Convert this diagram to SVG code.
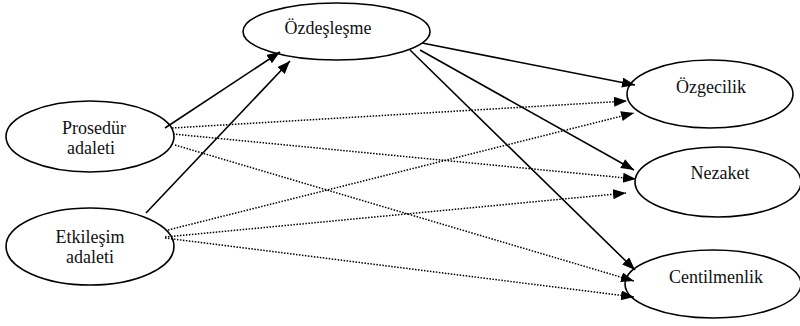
<svg xmlns="http://www.w3.org/2000/svg" width="800" height="326" viewBox="0 0 800 326">
<style>
.node ellipse{fill:#fff;stroke:#000;stroke-width:1.6}
.node text{font-family:"Liberation Serif","Times New Roman",serif;font-size:18px;fill:#111;text-anchor:middle}
.edge{stroke:#000;stroke-width:1.6;fill:none}
.dot{stroke:#000;stroke-width:1.5;fill:none;stroke-dasharray:1.5 1.5}
</style>
<defs>
<marker id="arr" markerUnits="userSpaceOnUse" markerWidth="14" markerHeight="11" refX="13" refY="5" orient="auto">
<path d="M0,0 L13,5 L0,10 z" fill="#000"/>
</marker>
</defs>
<rect width="800" height="326" fill="#fff"/>
<g id="node-ozdeslesme" class="node"><ellipse cx="336.5" cy="31.5" rx="93.5" ry="28.5"/><text x="328" y="34">Özdeşleşme</text></g>
<g id="node-prosedur" class="node"><ellipse cx="90" cy="136.5" rx="84" ry="35.5"/><text x="94" y="134">Prosedür</text><text x="91" y="154">adaleti</text></g>
<g id="node-etkilesim" class="node"><ellipse cx="90" cy="246.5" rx="84" ry="38.5"/><text x="90" y="243">Etkileşim</text><text x="90" y="263">adaleti</text></g>
<g id="node-ozgecilik" class="node"><ellipse cx="710" cy="94" rx="83" ry="34"/><text x="711" y="93">Özgecilik</text></g>
<g id="node-nezaket" class="node"><ellipse cx="718" cy="182" rx="83" ry="35"/><text x="720" y="179">Nezaket</text></g>
<g id="node-centilmenlik" class="node"><ellipse cx="713" cy="284" rx="88" ry="34"/><text x="716" y="283">Centilmenlik</text></g>
<g id="connectors">
<line class="edge" x1="165" y1="128" x2="280" y2="52" marker-end="url(#arr)"/>
<line class="edge" x1="146" y1="213" x2="290" y2="61" marker-end="url(#arr)"/>
<line class="edge" x1="422" y1="43" x2="635" y2="85" marker-end="url(#arr)"/>
<line class="edge" x1="420" y1="50" x2="634" y2="170" marker-end="url(#arr)"/>
<line class="edge" x1="410" y1="50" x2="635" y2="270" marker-end="url(#arr)"/>
<line class="dot" x1="172" y1="128" x2="627" y2="101" marker-end="url(#arr)"/>
<line class="dot" x1="173" y1="134" x2="636" y2="179" marker-end="url(#arr)"/>
<line class="dot" x1="175" y1="145" x2="634" y2="281" marker-end="url(#arr)"/>
<line class="dot" x1="168" y1="230" x2="634" y2="113" marker-end="url(#arr)"/>
<line class="dot" x1="165" y1="237" x2="626" y2="193" marker-end="url(#arr)"/>
<line class="dot" x1="165" y1="238" x2="634" y2="297" marker-end="url(#arr)"/>
</g>
</svg>
